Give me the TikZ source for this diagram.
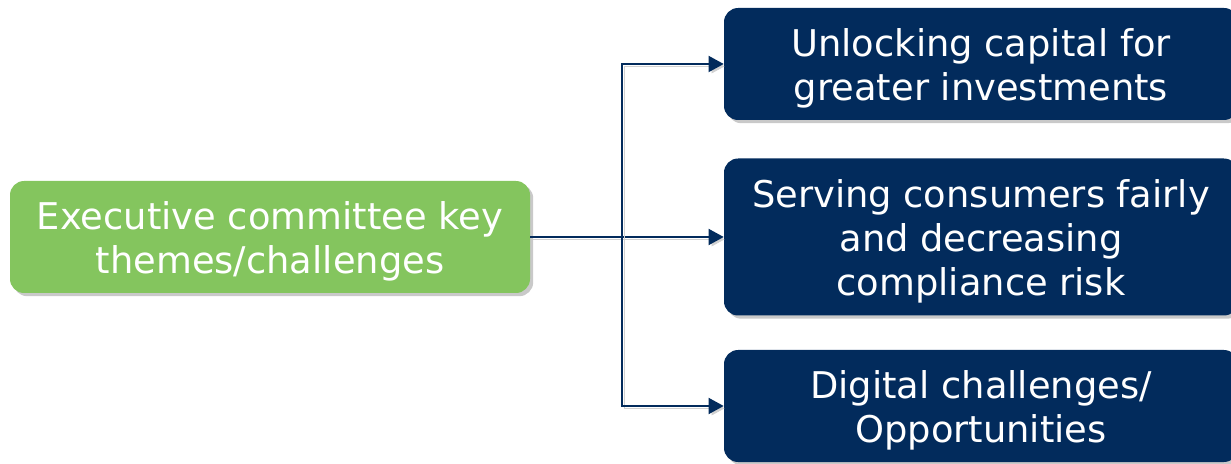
\documentclass[tikz,border=0pt]{standalone}
\usepackage{fontspec}
\setmainfont{DejaVu Sans}
\usetikzlibrary{arrows.meta,positioning,shadows}
\definecolor{themegreen}{HTML}{84C55E}
\definecolor{themenavy}{HTML}{022B5C}
% taller first line, pushes the text block a little down
\newcommand{\padtop}{\rule{0pt}{0.92cm}}

\begin{document}
\begin{tikzpicture}[
every node/.style={font=\fontsize{26.2}{31.3}\selectfont},
theme/.style={rounded corners=10pt,minimum width=12.85cm,minimum height=2.8cm,
align=center,text=white,inner sep=0pt,
drop shadow={shadow xshift=0.08cm,shadow yshift=-0.08cm,opacity=0.3,fill=black!70}},
root/.style={theme,fill=themegreen,minimum width=13cm},
topic/.style={theme,fill=themenavy},
arr/.style={-{Triangle[length=0.38cm,width=0.4cm]},line width=1.5pt,draw=themenavy,
preaction={draw=black!18,transform canvas={shift={(0.06,-0.06)}}}}
]
\useasboundingbox (0,0) rectangle (30.775,11.575);
\node[root]  (exec)      at (6.75,5.65)    {\padtop Executive committee key\\ themes/challenges};
\node[topic] (capital)   at (24.525,9.975) {\padtop Unlocking capital for\\ greater investments};
\node[topic,minimum height=3.925cm] (consumers) at (24.525,5.65)
  {\padtop Serving consumers fairly\\ and decreasing\\ compliance risk};
\node[topic] (digital)   at (24.525,1.425) {\padtop Digital challenges/\\ Opportunities};
\coordinate (split) at (15.55,5.65);
\draw[arr] (exec) -- (consumers);
\draw[arr] (split) |- (capital.west);
\draw[arr] (split) |- (digital.west);
\end{tikzpicture}
\end{document}
